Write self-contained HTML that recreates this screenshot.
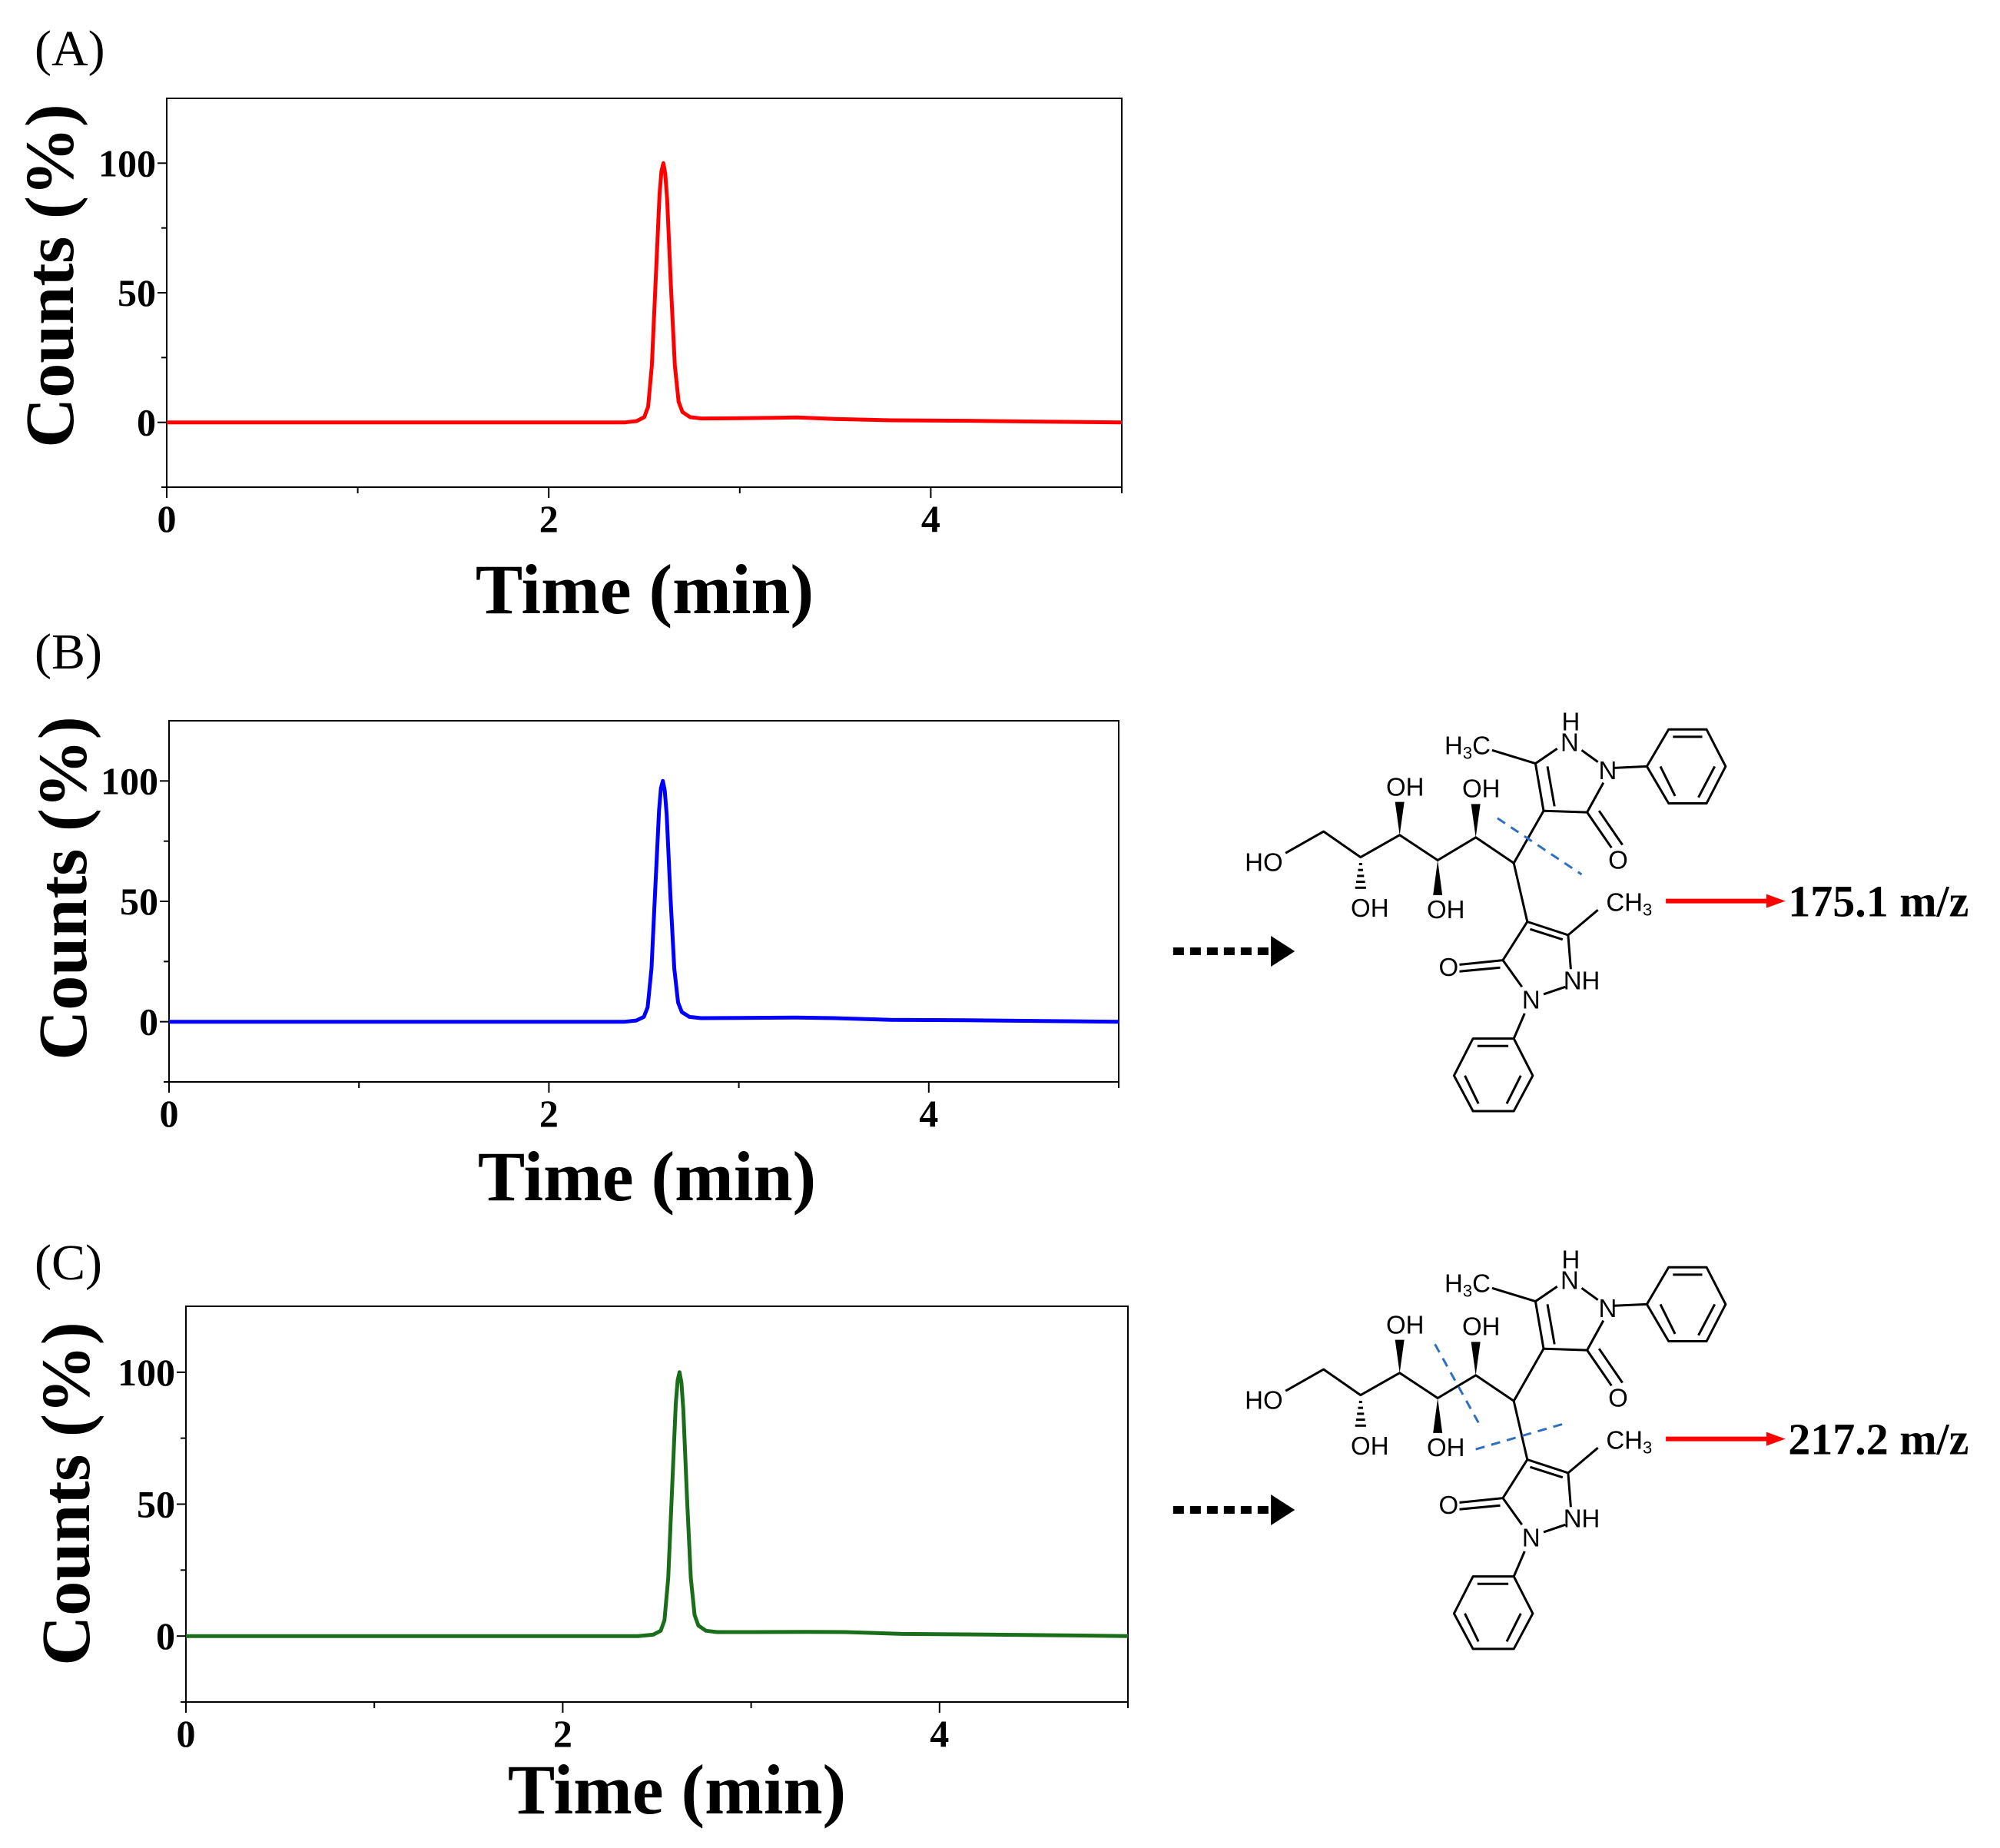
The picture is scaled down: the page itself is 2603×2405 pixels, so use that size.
<!DOCTYPE html>
<html><head><meta charset="utf-8">
<style>
html,body{margin:0;padding:0;background:#fff;}
svg{display:block;}
text{font-family:"Liberation Serif",serif;}
.st{font-family:"Liberation Sans",sans-serif;font-size:33px;fill:#000;}
</style></head>
<body>
<svg id="fig" width="2603" height="2405" viewBox="0 0 2603 2405" xmlns="http://www.w3.org/2000/svg">
<rect width="2603" height="2405" fill="#fff"/>
</svg>
<script>
// ---- chart data ----
const timesA = [0, 1.0, 2.0, 2.4, 2.46, 2.5, 2.52, 2.54, 2.56, 2.58, 2.59, 2.6, 2.61, 2.62, 2.64, 2.66, 2.68, 2.7, 2.74, 2.8, 3.0, 3.3, 3.5, 3.8, 4.2, 4.6, 5.0];
const valuesA = [0, 0, 0, 0, 0.5, 2, 6, 22, 55, 88, 97, 100, 96, 86, 52, 22, 8, 4, 2, 1.5, 1.6, 1.9, 1.3, 0.8, 0.6, 0.3, 0];
const timesB = [0, 1.0, 2.0, 2.4, 2.46, 2.5, 2.52, 2.54, 2.56, 2.58, 2.59, 2.6, 2.61, 2.62, 2.64, 2.66, 2.68, 2.7, 2.74, 2.8, 3.0, 3.3, 3.5, 3.8, 4.2, 4.6, 5.0];
const valuesB = [0, 0, 0, 0, 0.5, 2, 6, 22, 55, 88, 97, 100, 96, 86, 52, 22, 8, 4, 2, 1.5, 1.6, 1.7, 1.5, 0.8, 0.6, 0.3, 0];
const timesC = [0, 1.0, 2.0, 2.4, 2.48, 2.52, 2.54, 2.56, 2.58, 2.6, 2.61, 2.62, 2.63, 2.64, 2.66, 2.68, 2.7, 2.72, 2.76, 2.82, 3.0, 3.3, 3.5, 3.8, 4.2, 4.6, 5.0];
const valuesC = [0, 0, 0, 0, 0.5, 2, 6, 22, 55, 88, 97, 100, 96, 86, 52, 22, 8, 4, 2, 1.5, 1.5, 1.6, 1.5, 0.8, 0.6, 0.3, 0];
const xTicks = [0, 2, 4];
const xTickLabels = ["0", "2", "4"];
const xMinorTicks = [1, 3, 5];
const yTicks = [0, 50, 100];
const yTickLabels = ["0", "50", "100"];
const yMinorTicks = [-25, 25, 75];

const NS = "http://www.w3.org/2000/svg";
const svg = document.getElementById("fig");
function mk(tag, attrs, parent) {
  const e = document.createElementNS(NS, tag);
  for (const k in attrs) e.setAttribute(k, attrs[k]);
  (parent || svg).appendChild(e);
  return e;
}

function drawChart(cfg) {
  const g = mk("g", {});
  
  
  const sx = t => cfg.x0 + (t - 0) / 5 * (cfg.x1 - cfg.x0);
  const sy = v => cfg.yb + (v - (-25)) / 150 * (cfg.yt - cfg.yb);
  const frame = mk("rect", {x: cfg.x0, y: cfg.yt, width: cfg.x1 - cfg.x0, height: cfg.yb - cfg.yt, fill: "none", stroke: "#000", "stroke-width": 2}, g);
  
  
  xTicks.forEach((t, i) => {
    mk("line", {x1: sx(t), x2: sx(t), y1: cfg.yb, y2: cfg.yb + 14, stroke: "#000", "stroke-width": 2}, g);
    const tx = mk("text", {x: sx(t), y: cfg.yb + 58, "font-size": 50, "font-weight": "bold", "text-anchor": "middle"}, g);
    tx.textContent = xTickLabels[i];
    
    
  });
  xMinorTicks.forEach(t => mk("line", {x1: sx(t), x2: sx(t), y1: cfg.yb, y2: cfg.yb + 8, stroke: "#000", "stroke-width": 2}, g));
  yTicks.forEach((v, i) => {
    mk("line", {x1: cfg.x0 - 12, x2: cfg.x0, y1: sy(v), y2: sy(v), stroke: "#000", "stroke-width": 2}, g);
    const ty = mk("text", {x: cfg.x0 - 14, y: sy(v) + 17, "font-size": 50, "font-weight": "bold", "text-anchor": "end"}, g);
    ty.textContent = yTickLabels[i];
    
    
  });
  yMinorTicks.forEach(v => mk("line", {x1: cfg.x0 - 7, x2: cfg.x0, y1: sy(v), y2: sy(v), stroke: "#000", "stroke-width": 2}, g));
  let d = "";
  cfg.times.forEach((t, i) => { d += (i ? "L" : "M") + sx(t).toFixed(1) + " " + sy(cfg.vals[i]).toFixed(1); });
  const line = mk("path", {d: d, fill: "none", stroke: cfg.color, "stroke-width": 5, "stroke-linejoin": "round"}, g);
  
  
  const xt = mk("text", {x: cfg.titleX, y: cfg.titleY, "font-size": 92, "font-weight": "bold", "text-anchor": "middle"}, g);
  xt.textContent = "Time (min)";
  
  
  const yt = mk("text", {x: 0, y: 0, "font-size": 90, "font-weight": "bold", "text-anchor": "middle", transform: "translate(" + (cfg.ylabX) + " " + cfg.ylabY + ") rotate(-90)"}, g);
  yt.textContent = "Counts (%)";
  
  
  const pl = mk("text", {x: 45, y: cfg.panelY, "font-size": 66}, g);
  pl.textContent = cfg.panel;
  
  
}

drawChart({name: "chart-a", x0: 217, x1: 1460, yt: 128, yb: 634, times: timesA, vals: valuesA, color: "#ff0000", titleX: 839, titleY: 798, ylabX: 95, ylabY: 359, panel: "(A)", panelY: 85});
drawChart({name: "chart-b", x0: 220, x1: 1456, yt: 938, yb: 1408, times: timesB, vals: valuesB, color: "#0000ff", titleX: 842, titleY: 1562, ylabX: 112, ylabY: 1156, panel: "(B)", panelY: 870});
drawChart({name: "chart-c", x0: 242, x1: 1468, yt: 1700, yb: 2215, times: timesC, vals: valuesC, color: "#1a6e1a", titleX: 881, titleY: 2360, ylabX: 116, ylabY: 1944, panel: "(C)", panelY: 1665});

// ---- chemical structures ----
function drawStructure(ox, oy, name, mz, dashes) {
  const g = mk("g", {});
  
  
  const X = zx => ox + 0.707 * zx, Y = zy => oy + 0.385 * zy;
  const L = (pts, w, col, dash) => {
    let d = ""; pts.forEach((p, i) => d += (i ? "L" : "M") + X(p[0]).toFixed(1) + " " + Y(p[1]).toFixed(1));
    const a = {d: d, fill: "none", stroke: col || "#000", "stroke-width": w || 3, "stroke-linejoin": "round"};
    if (dash) a["stroke-dasharray"] = dash;
    return mk("path", a, g);
  };
  const T = (s, zx, zy) => { const t = mk("text", {x: X(zx), y: Y(zy) + 11, "text-anchor": "middle", class: "st"}, g); t.textContent = s; return t; };
  L([[245,598],[315,525],[383,612],[455,537],[525,622],[595,545],[665,632]]);
  const W = (x, y1, y2) => mk("polygon", {points: X(x)+","+Y(y1)+" "+(X(x)-6)+","+Y(y2)+" "+(X(x)+6)+","+Y(y2), fill: "#000"}, g);
  W(455,537,425); W(595,545,432); W(525,622,740);
  for (let k = 0; k < 5; k++) { const yy = 635 + k * 20, hw = 2 + k * 1.3; L([[383 - hw*1.4, yy],[383 + hw*1.4, yy]], 3); }
  T("OH",465,375); T("OH",605,380); T("OH",400,785); T("OH",540,790); T("HO",205,630);
  L([[665,632],[720,455]]); L([[665,632],[690,830]]);
  L([[720,455],[705,295],[745,245]]); L([[740,440],[727,305]]);
  L([[790,250],[820,290]]); L([[830,360],[800,460],[720,455]]);
  L([[800,460],[845,580]]); L([[822,455],[865,570]]);
  L([[705,295],[625,250]]); L([[850,310],[910,305]]);
  L([[910,305],[950,180],[1020,180],[1055,305],[1020,430],[950,430],[910,305]]);
  L([[958,205],[1012,205]]); L([[1035,305],[1005,410]]); L([[935,305],[962,405]]);
  T("H",770,155); T("N",768,225); T("N",838,320); T("O",857,622);
  mk("text", {x: X(580)-30, y: Y(235)+11, class: "st"}, g).innerHTML = 'H<tspan font-size="22" dy="6">3</tspan><tspan dy="-6">C</tspan>';
  L([[690,830],[765,875]]); L([[695,855],[755,890]]);
  L([[765,875],[820,790]]); L([[765,875],[770,990]]);
  L([[760,1050],[720,1075]]); L([[690,830],[645,960],[680,1050]]);
  L([[645,960],[565,975]]); L([[640,985],[565,998]]);
  L([[685,1140],[665,1225]]);
  L([[665,1225],[590,1225],[555,1350],[590,1470],[665,1470],[700,1350],[665,1225]]);
  L([[598,1250],[655,1250]]); L([[575,1350],[600,1445]]); L([[678,1350],[652,1445]]);
  mk("text", {x: X(835), y: Y(765)+11, class: "st"}, g).innerHTML = 'CH<tspan font-size="22" dy="6">3</tspan>';
  T("NH",790,1030); T("N",697,1095); T("O",545,985);
  dashes.forEach(dd => L(dd, 3, "#2f6fc0", "12 9"));
  const da = mk("line", {x1: X(38), x2: X(215), y1: Y(930 + mz.dy), y2: Y(930 + mz.dy), stroke: "#000", "stroke-width": 10, "stroke-dasharray": "14 8"}, g);
  
  
  mk("polygon", {points: X(218)+","+(Y(930+mz.dy)-20)+" "+X(262)+","+Y(930+mz.dy)+" "+X(218)+","+(Y(930+mz.dy)+20), fill: "#000"}, g);
  const ra = mk("line", {x1: X(945), x2: X(1135), y1: Y(760), y2: Y(760), stroke: "#ff0000", "stroke-width": 6}, g);
  
  
  mk("polygon", {points: X(1130)+","+(Y(760)-9)+" "+X(1165)+","+Y(760)+" "+X(1130)+","+(Y(760)+9), fill: "#ff0000"}, g);
  const mt = mk("text", {x: X(1170), y: Y(760) + 20, "font-size": 58, "font-weight": "bold"}, g);
  mt.textContent = mz.label;
  
  
}
drawStructure(1500, 880, "structure-b", {label: "175.1 m/z", dy: 0}, [[[635,480],[790,670]]]);
drawStructure(1500, 1580, "structure-c", {label: "217.2 m/z", dy: 70}, [[[520,440],[600,705]], [[595,795],[755,710]]]);
</script>
</body></html>
